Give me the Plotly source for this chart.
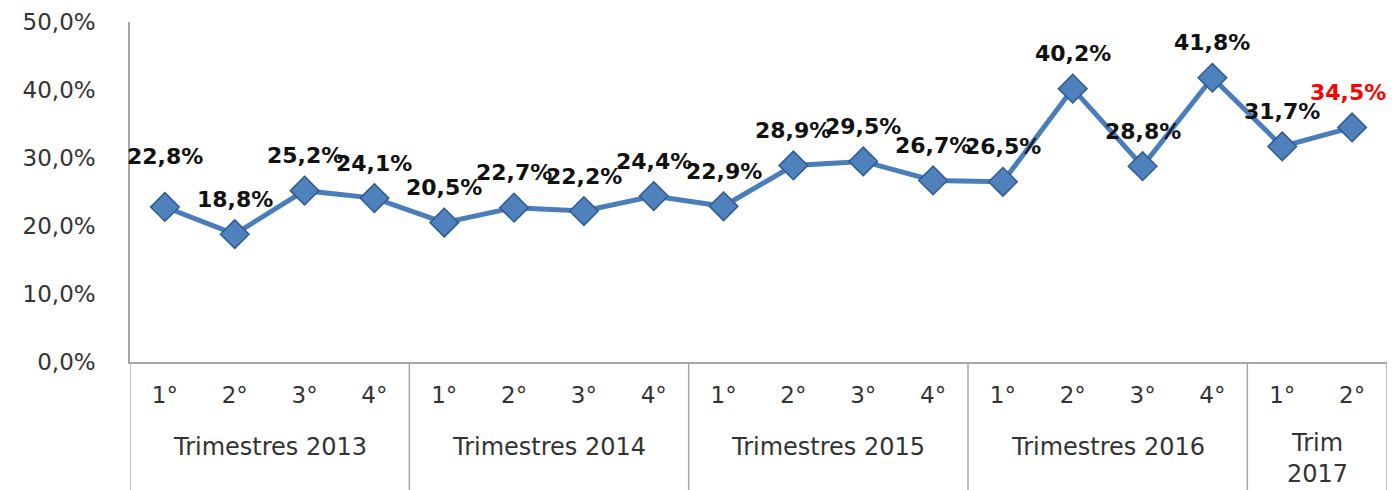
import plotly.graph_objects as go

quarters = ["1°", "2°", "3°", "4°", "1°", "2°", "3°", "4°", "1°", "2°", "3°", "4°",
            "1°", "2°", "3°", "4°", "1°", "2°"]
groups = ["Trimestres 2013", "Trimestres 2014", "Trimestres 2015", "Trimestres 2016", "Trim<br>2017"]
group_sizes = [4, 4, 4, 4, 2]
values = [22.8, 18.8, 25.2, 24.1, 20.5, 22.7, 22.2, 24.4, 22.9, 28.9, 29.5, 26.7,
          26.5, 40.2, 28.8, 41.8, 31.7, 34.5]
y_ticks = [0, 10, 20, 30, 40, 50]
y_ticklabels = ["0,0%", "10,0%", "20,0%", "30,0%", "40,0%", "50,0%"]

x = list(range(len(values)))
axis_col = "#A6A6A6"
text_col = "#333333"

fig = go.Figure()
fig.add_trace(go.Scatter(
    x=x, y=values, mode="lines+markers",
    line=dict(color="#4A7EBB", width=5),
    marker=dict(symbol="diamond", size=22, color="#4F81BD",
                line=dict(color="#2F5B8E", width=1.5)),
    hoverinfo="skip", showlegend=False,
))

annotations = []
n_pts = len(values)
for i, v in enumerate(values):
    annotations.append(dict(
        x=i, y=v, xref="x", yref="y",
        text="<b>" + f"{v:.1f}".replace(".", ",") + "%</b>",
        showarrow=False, yshift=50 if i == 0 else 35,
        xshift=-4 if i == n_pts - 1 else 0,
        font=dict(family="DejaVu Sans", size=22,
                  color="#FF0000" if i == n_pts - 1 else "#111111"),
    ))

shapes = []
bottom = -(490 - 362) / 340
start = 0
for g, n in zip(groups, group_sizes):
    center = start + (n - 1) / 2
    multiline = "<br>" in g
    annotations.append(dict(
        x=center, y=-0.25 if not multiline else -0.283, xref="x", yref="paper",
        text=g, showarrow=False, yanchor="middle",
        font=dict(family="DejaVu Sans", size=24, color=text_col),
    ))
    start += n
    shapes.append(dict(type="line", xref="x", yref="paper",
                       x0=start - 0.5, x1=start - 0.5, y0=0, y1=bottom,
                       line=dict(color=axis_col, width=1.5)))
shapes.append(dict(type="line", xref="x", yref="paper", x0=-0.5, x1=-0.5,
                   y0=0, y1=bottom, line=dict(color=axis_col, width=1.5)))

fig.update_layout(
    width=1394, height=490,
    margin=dict(l=130, r=7, t=22, b=128),
    paper_bgcolor="white", plot_bgcolor="white",
    annotations=annotations, shapes=shapes,
    xaxis=dict(range=[-0.5, n_pts - 0.5], tickvals=x, ticktext=quarters,
               showgrid=False, zeroline=False, showline=True, linecolor=axis_col,
               linewidth=1.5, ticks="", ticklabelstandoff=12, automargin=False,
               tickfont=dict(family="DejaVu Sans", size=23, color=text_col)),
    yaxis=dict(range=[0, 50], tickvals=y_ticks, ticktext=y_ticklabels,
               showgrid=False, zeroline=False, showline=True, linecolor=axis_col,
               linewidth=1.5, ticks="", ticklabelstandoff=28, automargin=False,
               tickfont=dict(family="DejaVu Sans", size=23, color=text_col)),
)

fig.write_html("out.html", config={"displayModeBar": False},
               post_script="document.body.style.margin='0';")
